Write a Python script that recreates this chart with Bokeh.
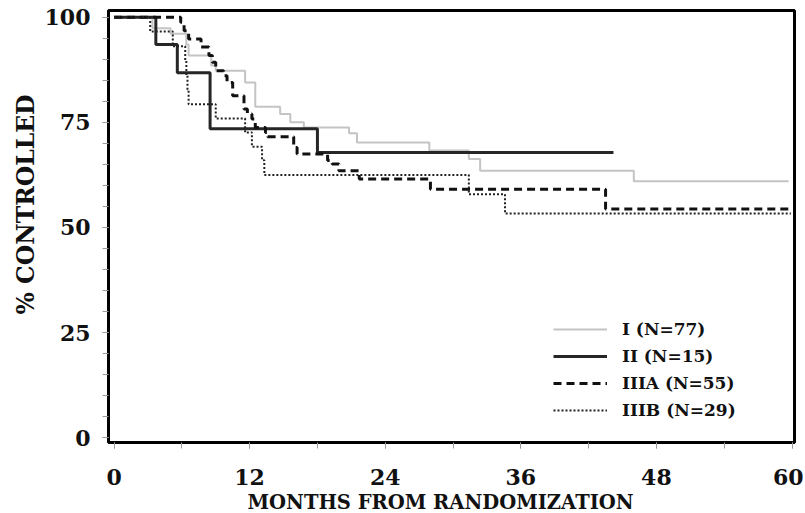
from bokeh.plotting import figure
from bokeh.models import Range1d, FixedTicker, Legend, LegendItem, Title
from bokeh.embed import file_html
from bokeh.resources import INLINE

# ---- data ----
months_I = [0, 3.4, 5.0, 6.4, 6.6, 8.6, 9.0, 11.6, 12.5, 14.7, 15.6, 16.8, 20.8, 21.5, 27.9, 31.4, 32.4, 46.0, 59.7]
ctrl_I = [100, 97.4, 96.1, 93.5, 90.9, 88.5, 87.3, 84.5, 78.7, 77.0, 75.0, 73.8, 72.4, 70.2, 68.3, 66.3, 63.5, 61.0, 61.0]

months_II = [0, 3.7, 5.6, 8.5, 18.0, 44.2]
ctrl_II = [100, 93.5, 86.8, 73.5, 67.8, 67.8]

months_IIIA = [0, 5.9, 6.2, 6.6, 7.7, 8.4, 8.7, 9.0, 9.7, 10.0, 10.5, 11.5, 11.8, 12.2, 12.5,
               13.4, 13.6, 15.9, 16.2, 18.9, 19.3, 19.9, 21.7, 28.0, 43.5, 60.0]
ctrl_IIIA = [100, 98.8, 96.8, 94.8, 92.9, 90.9, 89.3, 87.3, 86.1, 84.5, 81.3, 78.2, 77.0, 75.8, 73.8,
             72.6, 71.6, 69.0, 67.5, 65.9, 65.1, 63.5, 61.5, 59.1, 54.4, 54.4]

months_IIIB = [0, 3.2, 5.2, 6.3, 6.4, 6.5, 6.6, 9.0, 11.6, 12.2, 13.1, 13.3, 31.4, 34.6, 59.9]
ctrl_IIIB = [100, 96.6, 93.1, 89.7, 86.2, 82.8, 79.3, 75.9, 72.6, 69.2, 66.0, 62.5, 57.9, 53.3, 53.3]

series_labels = ["I (N=77)", "II (N=15)", "IIIA (N=55)", "IIIB (N=29)"]

x_ticks = [0, 12, 24, 36, 48, 60]
x_minor_ticks = [0, 6, 12, 18, 24, 30, 36, 42, 48, 54, 60]
y_ticks = [0, 25, 50, 75, 100]
y_minor_ticks = list(range(0, 101, 5))

FONT = "DejaVu Serif"

p = figure(frame_width=686, frame_height=432,
           x_range=Range1d(-0.49, 60.22), y_range=Range1d(-1.14, 101.6),
           output_backend="svg", toolbar_location=None,
           min_border_left=108, min_border_right=9, min_border_top=10, min_border_bottom=0)

p.background_fill_color = "white"
p.border_fill_color = "white"
p.outline_line_color = "black"
p.outline_line_width = 3
p.xgrid.grid_line_color = None
p.ygrid.grid_line_color = None

p.xaxis.ticker = FixedTicker(ticks=x_ticks, minor_ticks=x_minor_ticks)
p.yaxis.ticker = FixedTicker(ticks=y_ticks, minor_ticks=y_minor_ticks)
for ax in (p.xaxis, p.yaxis):
    ax.axis_line_color = None
    ax.major_tick_in = 0
    ax.minor_tick_in = 0
    ax.major_tick_out = 6
    ax.minor_tick_out = 6
    ax.major_tick_line_color = "#9a9a9a"
    ax.minor_tick_line_color = "#9a9a9a"
    ax.major_label_text_font = FONT
    ax.major_label_text_font_style = "bold"
    ax.major_label_text_font_size = "22px"
    ax.major_label_text_color = "#111111"
p.xaxis.major_label_standoff = 20
p.yaxis.major_label_standoff = 12

r1 = p.step(months_I, ctrl_I, mode="after", line_color="#c4c4c4", line_width=2)
r2 = p.step(months_II, ctrl_II, mode="after", line_color="#262626", line_width=3)
r3 = p.step(months_IIIA, ctrl_IIIA, mode="after", line_color="#111111", line_width=3, line_dash="8 5")
r4 = p.step(months_IIIB, ctrl_IIIB, mode="after", line_color="#222222", line_width=2, line_dash="2 2")

legend = Legend(items=[LegendItem(label=series_labels[i], renderers=[r]) for i, r in enumerate([r1, r2, r3, r4])],
                location=(445, 22), padding=0, margin=0,
                border_line_color=None, background_fill_alpha=0,
                glyph_width=54, glyph_height=20, label_height=20, spacing=7, label_standoff=15,
                label_text_font=FONT, label_text_font_style="bold", label_text_font_size="17px",
                label_text_color="#111111")
p.add_layout(legend)

p.add_layout(Title(text="MONTHS FROM RANDOMIZATION", align="left", offset=139,
                   text_font=FONT, text_font_style="bold", text_font_size="19.5px",
                   text_color="#111111", standoff=2), "below")
p.add_layout(Title(text="% CONTROLLED", align="left", offset=128,
                   text_font=FONT, text_font_style="bold", text_font_size="23.5px",
                   text_color="#111111", standoff=4), "left")

open("out.html", "w").write(file_html(p, INLINE))
